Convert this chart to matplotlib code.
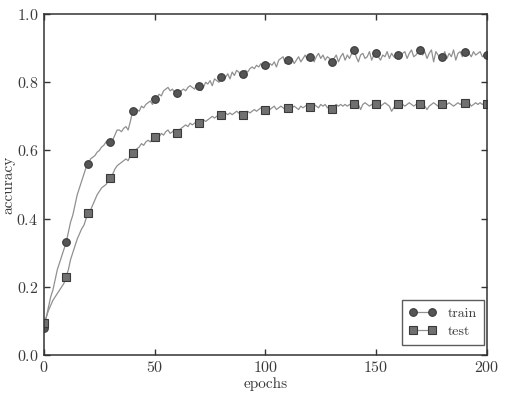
import matplotlib
matplotlib.use("Agg")
import matplotlib.pyplot as plt
import numpy as np

plt.rcParams["font.family"] = ["cmr10", "DejaVu Serif"]
plt.rcParams["axes.formatter.use_mathtext"] = True
plt.rcParams["mathtext.fontset"] = "cm"

# accuracy per epoch (epochs 0..200)
train_acc = [
    0.08, 0.11, 0.14, 0.17, 0.19, 0.22, 0.25, 0.27, 0.29, 0.31, 0.33,
    0.36, 0.39, 0.41, 0.44, 0.47, 0.49, 0.51, 0.53, 0.55, 0.56,
    0.575, 0.58, 0.585, 0.595, 0.60, 0.61, 0.615, 0.625, 0.63, 0.625,
    0.63, 0.645, 0.66, 0.66, 0.655, 0.665, 0.67, 0.66, 0.685, 0.715,
    0.705, 0.72, 0.715, 0.73, 0.725, 0.735, 0.74, 0.745, 0.735, 0.75,
    0.755, 0.765, 0.76, 0.775, 0.78, 0.785, 0.775, 0.78, 0.77, 0.77,
    0.765, 0.775, 0.78, 0.775, 0.785, 0.79, 0.785, 0.78, 0.795, 0.79,
    0.775, 0.785, 0.80, 0.795, 0.805, 0.79, 0.81, 0.805, 0.80, 0.815,
    0.82, 0.815, 0.825, 0.81, 0.83, 0.82, 0.835, 0.83, 0.815, 0.825,
    0.835, 0.83, 0.84, 0.845, 0.84, 0.85, 0.845, 0.855, 0.84, 0.85,
    0.845, 0.855, 0.85, 0.86, 0.845, 0.865, 0.87, 0.875, 0.855, 0.865,
    0.86, 0.87, 0.855, 0.865, 0.875, 0.86, 0.87, 0.88, 0.865, 0.875,
    0.88, 0.86, 0.875, 0.885, 0.87, 0.88, 0.865, 0.875, 0.87, 0.86,
    0.87, 0.88, 0.86, 0.875, 0.885, 0.865, 0.88, 0.87, 0.885, 0.895,
    0.875, 0.86, 0.88, 0.885, 0.87, 0.875, 0.89, 0.865, 0.88, 0.885,
    0.875, 0.865, 0.88, 0.875, 0.89, 0.87, 0.885, 0.875, 0.87, 0.88,
    0.875, 0.885, 0.89, 0.87, 0.885, 0.895, 0.875, 0.88, 0.89, 0.895,
    0.88, 0.89, 0.87, 0.885, 0.895, 0.86, 0.89, 0.88, 0.87, 0.875,
    0.89, 0.87, 0.885, 0.875, 0.895, 0.865, 0.885, 0.89, 0.875, 0.89,
    0.88, 0.885, 0.875, 0.89, 0.88, 0.885, 0.89, 0.875, 0.88, 0.88,
]

test_acc = [
    0.095, 0.11, 0.13, 0.145, 0.16, 0.17, 0.18, 0.19, 0.20, 0.21, 0.23,
    0.25, 0.28, 0.30, 0.32, 0.34, 0.355, 0.37, 0.38, 0.40, 0.415,
    0.425, 0.44, 0.455, 0.47, 0.48, 0.49, 0.495, 0.50, 0.51, 0.52,
    0.53, 0.545, 0.555, 0.56, 0.565, 0.57, 0.575, 0.57, 0.585, 0.593,
    0.60, 0.605, 0.61, 0.62, 0.615, 0.625, 0.63, 0.625, 0.635, 0.64,
    0.645, 0.64, 0.65, 0.645, 0.655, 0.66, 0.65, 0.655, 0.66, 0.652,
    0.66, 0.665, 0.67, 0.675, 0.67, 0.68, 0.675, 0.68, 0.685, 0.68,
    0.685, 0.69, 0.685, 0.69, 0.695, 0.70, 0.695, 0.70, 0.705, 0.705,
    0.70, 0.71, 0.705, 0.71, 0.705, 0.71, 0.715, 0.71, 0.70, 0.705,
    0.71, 0.715, 0.71, 0.715, 0.72, 0.715, 0.72, 0.725, 0.72, 0.72,
    0.725, 0.72, 0.725, 0.73, 0.72, 0.725, 0.73, 0.725, 0.72, 0.725,
    0.73, 0.725, 0.73, 0.725, 0.72, 0.73, 0.725, 0.73, 0.735, 0.727,
    0.73, 0.735, 0.73, 0.725, 0.735, 0.73, 0.735, 0.725, 0.73, 0.722,
    0.73, 0.735, 0.73, 0.735, 0.73, 0.735, 0.73, 0.735, 0.73, 0.735,
    0.73, 0.735, 0.72, 0.735, 0.74, 0.735, 0.73, 0.735, 0.73, 0.735,
    0.735, 0.73, 0.735, 0.74, 0.735, 0.73, 0.715, 0.725, 0.735, 0.735,
    0.74, 0.735, 0.73, 0.735, 0.74, 0.735, 0.73, 0.735, 0.74, 0.735,
    0.735, 0.73, 0.72, 0.73, 0.735, 0.74, 0.735, 0.73, 0.735, 0.735,
    0.73, 0.735, 0.74, 0.735, 0.73, 0.735, 0.74, 0.735, 0.74, 0.74,
    0.735, 0.74, 0.73, 0.735, 0.74, 0.735, 0.74, 0.735, 0.74, 0.735,
]

epochs = np.arange(len(train_acc))

fig = plt.figure(figsize=(5.06, 3.93), dpi=100)
ax = fig.add_axes([0.087, 0.097, 0.875, 0.867])

ax.plot(epochs, train_acc, color="#909090", linewidth=0.9,
        marker="o", markevery=10, markersize=5.5,
        markerfacecolor="#555555", markeredgecolor="#3a3a3a",
        markeredgewidth=0.8, label="train")
ax.plot(epochs, test_acc, color="#909090", linewidth=0.9,
        marker="s", markevery=10, markersize=5.5,
        markerfacecolor="#707070", markeredgecolor="#3a3a3a",
        markeredgewidth=0.8, label="test")

ax.set_xlim(0, 200)
ax.set_ylim(0, 1.0)
ax.set_xticks([0, 50, 100, 150, 200])
ax.set_yticks([0.0, 0.2, 0.4, 0.6, 0.8, 1.0])
ax.tick_params(direction="in", top=True, right=True, length=4,
               width=1.0, color="#333333", labelsize=11.5,
               labelcolor="#3a3a3a", pad=4)
for spine in ax.spines.values():
    spine.set_linewidth(1.1)
    spine.set_edgecolor("#333333")

ax.set_xlabel("epochs", fontsize=11, color="#3a3a3a", labelpad=1)
ax.set_ylabel("accuracy", fontsize=11, color="#3a3a3a", labelpad=1)

leg = ax.legend(loc="lower right", bbox_to_anchor=(0.993, 0.029),
                numpoints=2, fancybox=False, edgecolor="#333333",
                fontsize=10, handlelength=2.0, borderpad=0.5,
                labelspacing=0.4, borderaxespad=0)
leg.get_frame().set_linewidth(1.0)
for t in leg.get_texts():
    t.set_color("#3a3a3a")

fig.savefig("out.png", dpi=100)
